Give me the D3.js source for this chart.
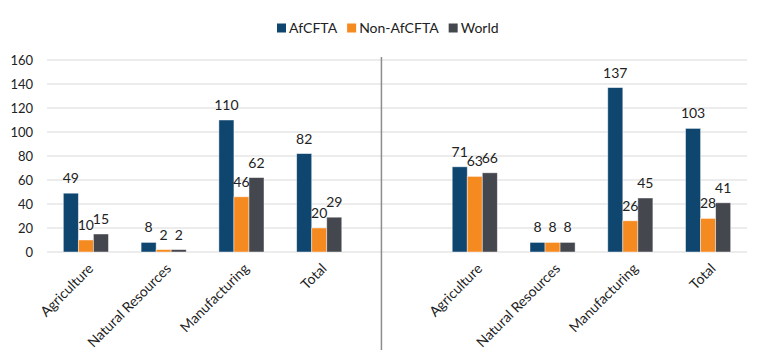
<!DOCTYPE html>
<html>
<head>
<meta charset="utf-8">
<script src="https://cdn.jsdelivr.net/npm/d3@7"></script>
<style>
  body { margin: 0; background: #fff; }
  svg { display: block; font-family: Lato, "Open Sans", sans-serif; }
</style>
</head>
<body>
<svg id="chart" width="768" height="350"></svg>
<script>
// ---- data ----
const title = "Trade costs, in percentage points, by strategy";
const categories = ["Agriculture", "Natural Resources", "Manufacturing", "Total"];
const seriesNames = ["AfCFTA", "Non-AfCFTA", "World"];
const seriesColors = ["#0f4670", "#f58a20", "#45474e"];
// left panel
const afcftaLeft = [49, 8, 110, 82];
const nonAfcftaLeft = [10, 2, 46, 20];
const worldLeft = [15, 2, 62, 29];
// right panel
const afcftaRight = [71, 8, 137, 103];
const nonAfcftaRight = [63, 8, 26, 28];
const worldRight = [66, 8, 45, 41];
const yTicks = [0, 20, 40, 60, 80, 100, 120, 140, 160];

// ---- build rows ----
const slots = [];
categories.forEach((c, i) => slots.push({ key: "L" + i, label: c, values: [afcftaLeft[i], nonAfcftaLeft[i], worldLeft[i]] }));
slots.push({ key: "gap", label: "", values: null });
categories.forEach((c, i) => slots.push({ key: "R" + i, label: c, values: [afcftaRight[i], nonAfcftaRight[i], worldRight[i]] }));

const svg = d3.select("#chart");
const plotLeft = 47, plotRight = 747, plotTop = 60, plotBottom = 252;

const x = d3.scaleBand().domain(slots.map(d => d.key)).range([plotLeft, plotRight])
  .paddingInner(0.42).paddingOuter(0.21);
const xs = d3.scaleBand().domain(seriesNames).range([0, x.bandwidth()]);
const y = d3.scaleLinear().domain([0, 160]).range([plotBottom, plotTop]);

// title (cropped at the top edge, as in the reference)
svg.append("text").attr("x", 384).attr("y", -3).attr("text-anchor", "middle")
  .attr("font-size", 15).attr("font-weight", "bold").attr("fill", "#222").text(title);

// gridlines
svg.append("g").selectAll("line").data(yTicks).join("line")
  .attr("x1", plotLeft).attr("x2", plotRight)
  .attr("y1", d => y(d)).attr("y2", d => y(d))
  .attr("stroke", "#d9d9d9").attr("stroke-width", 1);

// y axis labels
const yAxis = d3.axisLeft(y).tickValues(yTicks).tickSize(0).tickPadding(0);
const gy = svg.append("g").attr("transform", "translate(33,0)").call(yAxis);
gy.select(".domain").remove();
gy.selectAll("text").attr("font-size", 13).attr("fill", "#222")
  .attr("font-family", "Lato, 'Open Sans', sans-serif");

// divider
const dividerX = x("gap") - x.step() * x.paddingInner() / 2 + x.step() * 0.3;
svg.append("line").attr("x1", dividerX).attr("x2", dividerX)
  .attr("y1", 57).attr("y2", 350).attr("stroke", "#8c8c8c").attr("stroke-width", 1.5);

// bars
const bars = [];
slots.filter(s => s.values).forEach(s => s.values.forEach((v, j) => bars.push({ slot: s.key, series: seriesNames[j], j, v })));

svg.append("g").selectAll("rect").data(bars).join("rect")
  .attr("x", d => x(d.slot) + xs(d.series))
  .attr("width", xs.bandwidth())
  .attr("y", d => y(d.v))
  .attr("height", d => y(0) - y(d.v))
  .attr("fill", d => seriesColors[d.j])
  .attr("stroke", "rgba(255,255,255,0.55)").attr("stroke-width", 0.8);

// value labels
svg.append("g").selectAll("text").data(bars).join("text")
  .attr("x", d => x(d.slot) + xs(d.series) + xs.bandwidth() / 2)
  .attr("y", d => y(d.v) - 10)
  .attr("text-anchor", "middle").attr("font-size", 14).attr("fill", "#222")
  .text(d => d.v);

// x labels
svg.append("g").selectAll("text").data(slots.filter(s => s.values)).join("text")
  .attr("transform", d => `translate(${x(d.key) + x.bandwidth() / 2 + 5},${plotBottom + 14}) rotate(-45)`)
  .attr("text-anchor", "end").attr("dy", "0.35em")
  .attr("font-size", 14).attr("fill", "#222").text(d => d.label);

// legend
const legend = svg.append("g");
const legendItems = seriesNames.map((n, i) => ({ n, c: seriesColors[i] }));
let lx = 277;
legendItems.forEach(it => {
  const g = legend.append("g").attr("transform", `translate(${lx},28)`);
  g.append("rect").attr("x", 0).attr("y", -4.5).attr("width", 9).attr("height", 9).attr("fill", it.c);
  const t = g.append("text").attr("x", 12).attr("dy", "0.36em").attr("font-size", 14).attr("fill", "#222").text(it.n);
  lx += 12 + t.node().getComputedTextLength() + 10;
});
</script>
</body>
</html>
